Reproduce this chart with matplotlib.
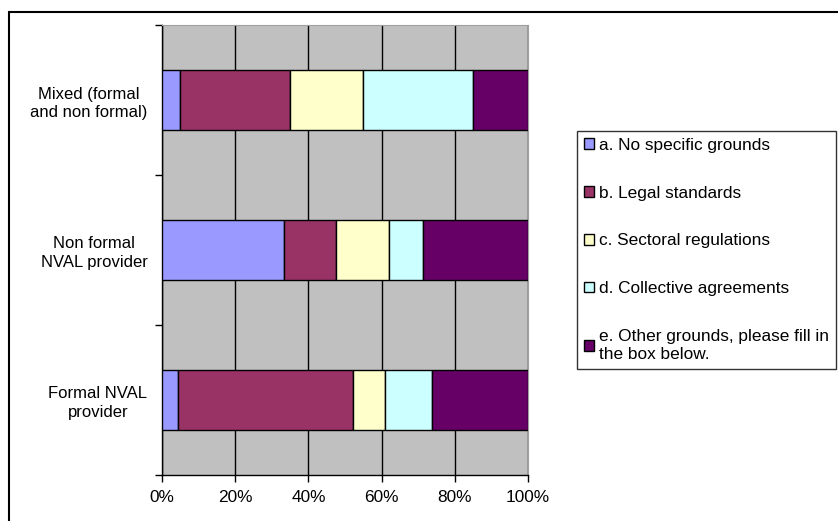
import matplotlib
matplotlib.use("Agg")
import numpy as np
import matplotlib.pyplot as plt
from matplotlib.patches import Rectangle
from matplotlib.ticker import FixedLocator, PercentFormatter

plt.rcParams['font.family'] = ['Liberation Sans', 'DejaVu Sans']

categories = ["Formal NVAL\nprovider", "Non formal\nNVAL provider", "Mixed (formal\nand non formal)"]
series_names = [
    "a. No specific grounds",
    "b. Legal standards",
    "c. Sectoral regulations",
    "d. Collective agreements",
    "e. Other grounds, please fill in\nthe box below.",
]
# shares in percent, one list per series (Formal, Non formal, Mixed)
no_specific = [4.3, 33.3, 5.0]
legal = [47.9, 14.3, 30.0]
sectoral = [8.7, 14.3, 20.0]
collective = [13.0, 9.5, 30.0]
other = [26.1, 28.6, 15.0]
colors = ["#9999FF", "#993366", "#FFFFCC", "#CCFFFF", "#660066"]

FS = 12.4

fig = plt.figure(figsize=(8.38, 5.21), dpi=100)
ax = fig.add_axes([162 / 838, 1 - 475 / 521, 366 / 838, 450 / 521])
ax.set_facecolor("#C0C0C0")

y = np.arange(len(categories))
left = np.zeros(len(categories))
for vals, name, c in zip([no_specific, legal, sectoral, collective, other], series_names, colors):
    ax.barh(y, vals, left=left, height=0.4, color=c, edgecolor="black", linewidth=1, label=name, zorder=3)
    left += np.array(vals)

ax.set_xlim(0, 100)
ax.set_ylim(-0.5, 2.5)
ax.set_xticks(np.arange(0, 101, 20))
ax.xaxis.set_major_formatter(PercentFormatter(decimals=0))
ax.set_yticks(y)
ax.set_yticklabels(categories, fontsize=12)
for lbl in ax.get_yticklabels():
    lbl.set_multialignment("center")
    lbl.set_linespacing(1.3)
ax.yaxis.set_minor_locator(FixedLocator([-0.5, 0.5, 1.5, 2.5]))
ax.tick_params(axis="y", which="major", length=0, pad=10.5)
ax.tick_params(axis="y", which="minor", length=5, width=1, direction="out")
ax.tick_params(axis="x", length=5, width=1, direction="out", labelsize=FS, pad=6)

ax.grid(axis="x", color="black", linewidth=1, zorder=1)
ax.set_axisbelow(True)
for s in ["top", "right"]:
    ax.spines[s].set_color("#A0A0A0")
for s in ["left", "bottom"]:
    ax.spines[s].set_color("black")
    ax.spines[s].set_linewidth(1)

leg = fig.legend(
    loc="upper left", bbox_to_anchor=(577 / 838, 1 - 131 / 521),
    fontsize=FS, frameon=True, fancybox=False, edgecolor="black",
    handlelength=0.6, handleheight=0.6, handletextpad=0.3,
    labelspacing=1.9, borderpad=0.4, borderaxespad=0,
)
leg.get_frame().set_linewidth(1)
for h in leg.legend_handles:
    h.set_linewidth(1)
for t in leg.get_texts():
    t.set_linespacing(1.3)

fig.patches.append(Rectangle((9 / 838, -0.1), 1.2, 1 - 12 / 521 + 0.1,
                             transform=fig.transFigure, fill=False,
                             edgecolor="black", linewidth=1.5))

fig.savefig("out.png", dpi=100)
